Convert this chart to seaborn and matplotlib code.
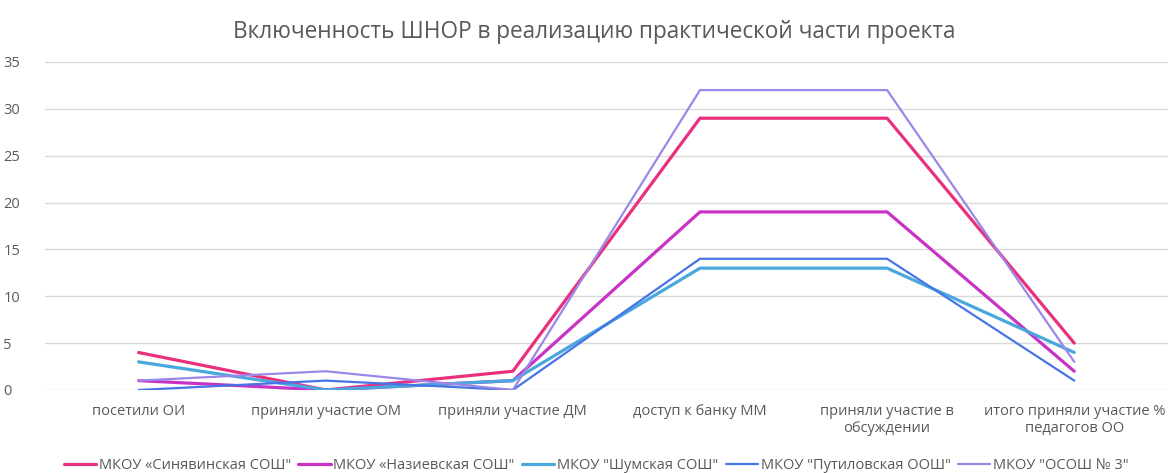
import matplotlib
matplotlib.use("Agg")
import matplotlib.pyplot as plt
import seaborn as sns
import pandas as pd

categories = ["посетили ОИ", "приняли участие ОМ", "приняли участие ДМ",
              "доступ к банку ММ", "приняли участие в\nобсуждении",
              "итого приняли участие %\nпедагогов ОО"]
series_names = ["МКОУ «Синявинская СОШ\"", "МКОУ «Назиевская СОШ\"",
                "МКОУ \"Шумская СОШ\"", "МКОУ \"Путиловская ООШ\"", "МКОУ \"ОСОШ № 3\""]
sinyavino = [4, 0, 2, 29, 29, 5]
nazievka = [1, 0, 1, 19, 19, 2]
shum = [3, 0, 1, 13, 13, 4]
putilovo = [0, 1, 0, 14, 14, 1]
ososh3 = [1, 2, 0, 32, 32, 3]
yticks = [0, 5, 10, 15, 20, 25, 30, 35]

colors = ["#E8307F", "#C832C6", "#4AA7DD", "#4775E6", "#9C86E8"]
widths = [2.3, 2.3, 2.3, 1.6, 1.6]

sns.set_theme(style="white")
plt.rcParams['font.family'] = ['Open Sans', 'DejaVu Sans']

fig = plt.figure(figsize=(11.69, 4.73), dpi=100)
ax = fig.add_axes([0.0385, 0.1755, 0.9605, 0.6935])

x = list(range(len(categories)))
for name, vals, c, w in zip(series_names, [sinyavino, nazievka, shum, putilovo, ososh3], colors, widths):
    df = pd.DataFrame({"x": x, "y": vals})
    sns.lineplot(data=df, x="x", y="y", ax=ax, color=c, linewidth=w, label=name, sort=False)

ax.set_xlim(-0.5, len(categories) - 0.5)
ax.set_ylim(0, 35)
ax.set_yticks(yticks)
ax.set_xticks(x)
ax.set_xticklabels(categories, fontsize=10.5, color="#595959")
ax.tick_params(axis="y", labelsize=10.5, labelcolor="#595959", length=0, pad=30)
ax.tick_params(axis="x", length=0, pad=10)
for lab in ax.get_yticklabels():
    lab.set_horizontalalignment("left")
ax.yaxis.grid(True, color="#D9D9D9", linewidth=1)
ax.set_axisbelow(True)
for s in ax.spines.values():
    s.set_visible(False)
ax.set_xlabel("")
ax.set_ylabel("")

ax.get_legend().remove()
h, l = ax.get_legend_handles_labels()
fig.legend(h, l, loc="lower center", ncol=5, bbox_to_anchor=(0.51, -0.028),
           frameon=False, fontsize=10.5, handlelength=2.2, handletextpad=0.2,
           columnspacing=0.5, labelcolor="#595959")

fig.suptitle("Включенность ШНОР в реализацию практической части проекта",
             x=0.508, y=0.958, fontsize=16.3, color="#595959")

fig.savefig("out.png", dpi=100)
